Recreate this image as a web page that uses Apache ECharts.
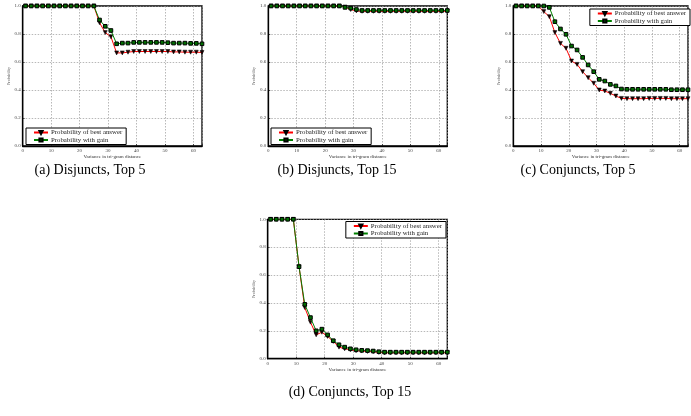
<!DOCTYPE html>
<html>
<head>
<meta charset="utf-8">
<script src="https://cdn.jsdelivr.net/npm/echarts@6/dist/echarts.min.js"></script>
<style>html,body{margin:0;padding:0;background:#fff;}#c{width:691px;height:416px;}</style>
</head>
<body>
<div id="c"></div>
<script>
// ---- data ----
const xs = [1,3,5,7,9,11,13,15,17,19,21,23,25,27,29,31,33,35,37,39,41,43,45,47,49,51,53,55,57,59,61,63];
const seriesNames = ['Probability of best answer', 'Probability with gain'];
const captions = ['(a) Disjuncts, Top 5', '(b) Disjuncts, Top 15', '(c) Conjuncts, Top 5', '(d) Conjuncts, Top 15'];
const xAxisName = 'Variance in tri-gram distance';
const yAxisName = 'Probability';
const yTicks = [0, 0.2, 0.4, 0.6, 0.8, 1.0];
const xTicks = [0, 10, 20, 30, 40, 50, 60];

const aBest = [1,1,1,1,1,1,1,1,1,1,1,1,1, 0.88,0.81,0.78,0.665, 0.665,0.67,0.675,0.675,0.675,0.675,0.675,0.675,0.675,0.672,0.672,0.67,0.67,0.67,0.668];
const aGain = [1,1,1,1,1,1,1,1,1,1,1,1,1, 0.90,0.855,0.825,0.73, 0.735,0.735,0.74,0.74,0.74,0.74,0.74,0.74,0.738,0.735,0.735,0.735,0.733,0.733,0.73];

const bBest = [1,1,1,1,1,1,1,1,1,1,1,1,1, 0.993,0.975,0.965,0.962, 0.962,0.962,0.962,0.962,0.962,0.962,0.962,0.962,0.962,0.962,0.962,0.962,0.962,0.962,0.962];
const bGain = [1,1,1,1,1,1,1,1,1,1,1,1,1, 0.99,0.985,0.975,0.968, 0.968,0.968,0.968,0.968,0.968,0.968,0.968,0.968,0.968,0.968,0.968,0.968,0.968,0.968,0.968];

const cBest = [1,1,1,1,1, 0.96,0.924,0.81,0.733,0.698,0.607,0.583,0.531,0.488,0.448,0.40,0.393,0.376,0.357,0.34, 0.338,0.338,0.338,0.338,0.34,0.34,0.34,0.34,0.338,0.338,0.338,0.338];
const cGain = [1,1,1,1,1,1, 0.99,0.888,0.836,0.798,0.714,0.686,0.633,0.579,0.531,0.476,0.464,0.44,0.429,0.407, 0.405,0.405,0.405,0.405,0.405,0.405,0.405,0.405,0.402,0.402,0.402,0.402];

const dBest = [1,1,1,1,1, 0.66,0.367,0.262,0.171,0.19,0.16,0.124,0.083,0.071,0.064,0.057,0.055,0.052,0.05,0.045, 0.042,0.042,0.042,0.042,0.042,0.042,0.042,0.042,0.042,0.042,0.042,0.042];
const dGain = [1,1,1,1,1, 0.66,0.39,0.295,0.2,0.212,0.171,0.129,0.10,0.083,0.071,0.064,0.06,0.058,0.055,0.05, 0.047,0.047,0.047,0.047,0.047,0.047,0.047,0.047,0.047,0.047,0.047,0.047];

const panelData = [[aBest, aGain], [bBest, bGain], [cBest, cGain], [dBest, dGain]];

// ---- layout ----
const layout = [
  { grid: {left: 22.7, top: 6, width: 179.3, height: 140}, legend: {left: 26, top: 128}, cap: {x: 90, y: 163} },
  { grid: {left: 268.3, top: 6, width: 179, height: 140}, legend: {left: 271, top: 128}, cap: {x: 337, y: 163} },
  { grid: {left: 513.3, top: 6, width: 176.7, height: 140}, legend: {right: 1, top: 9}, cap: {x: 578, y: 163} },
  { grid: {left: 267.7, top: 219.3, width: 179.6, height: 139.4}, legend: {right: 245, top: 221.5}, cap: {x: 350, y: 385} }
];

const serif = 'Liberation Serif';
const grids = [], xAxes = [], yAxes = [], series = [], legends = [], titles = [];

layout.forEach((L, i) => {
  grids.push(Object.assign({show: true, borderColor: '#000', borderWidth: 1.3, backgroundColor: 'transparent'}, L.grid));
  xAxes.push({
    type: 'value', gridIndex: i, min: 0, max: 63, interval: 10,
    name: xAxisName, nameLocation: 'middle', nameGap: 8,
    nameTextStyle: {fontSize: 5, fontFamily: serif, color: '#333'},
    axisLine: {show: true, lineStyle: {color: '#000', width: 1.3}},
    axisTick: {show: true, inside: true, length: 2, lineStyle: {color: '#000', width: 0.6}},
    axisLabel: {fontSize: 5, fontFamily: serif, color: '#444', margin: 2,
      formatter: v => (xTicks.indexOf(v) >= 0 ? String(v) : '')},
    splitLine: {show: true, lineStyle: {color: '#999', width: 0.7, type: [1.5, 1.5]}}
  });
  yAxes.push({
    type: 'value', gridIndex: i, min: 0, max: 1, interval: 0.2,
    name: yAxisName, nameLocation: 'middle', nameGap: 11,
    nameTextStyle: {fontSize: 4, fontFamily: serif, color: '#444'},
    axisLine: {show: true, lineStyle: {color: '#000', width: 1.3}},
    axisTick: {show: true, inside: true, length: 2, lineStyle: {color: '#000', width: 0.6}},
    axisLabel: {fontSize: 5, fontFamily: serif, color: '#444', margin: 2,
      formatter: v => (yTicks.some(t => Math.abs(t - v) < 1e-9) ? v.toFixed(1) : '')},
    splitLine: {show: true, lineStyle: {color: '#999', width: 0.7, type: [1.5, 1.5]}}
  });
  const [best, gain] = panelData[i];
  series.push({
    name: seriesNames[0], type: 'line', xAxisIndex: i, yAxisIndex: i,
    data: xs.map((x, k) => [x, best[k]]),
    showAllSymbol: true, symbol: 'triangle', symbolRotate: 180, symbolSize: 4,
    lineStyle: {color: '#ff0000', width: 1},
    itemStyle: {color: '#1a0000', borderColor: '#000', borderWidth: 0.5},
    z: 2
  });
  series.push({
    name: seriesNames[1], type: 'line', xAxisIndex: i, yAxisIndex: i,
    data: xs.map((x, k) => [x, gain[k]]),
    showAllSymbol: true, symbol: 'rect', symbolSize: 3.6,
    lineStyle: {color: '#008000', width: 1},
    itemStyle: {color: '#007000', borderColor: '#000', borderWidth: 1},
    z: 3
  });
  legends.push(Object.assign({
    data: seriesNames, top: L.legend.top, orient: 'vertical',
    itemWidth: 14, itemHeight: 4, itemGap: 0.5, padding: [1, 4, 1, 7],
    borderColor: '#000', borderWidth: 1, backgroundColor: '#fff',
    textStyle: {fontSize: 6.8, fontFamily: serif, color: '#222', padding: [0,0,0,-2]},
    selectedMode: false, z: 10
  }, L.legend.left !== undefined ? {left: L.legend.left} : {right: L.legend.right}));
  titles.push({
    text: captions[i], left: L.cap.x, top: L.cap.y, textAlign: 'center', padding: 0,
    textStyle: {fontSize: 14, fontFamily: serif, fontWeight: 'normal', color: '#000'}
  });
});

const chart = echarts.init(document.getElementById('c'), null, {renderer: 'canvas'});
chart.setOption({
  animation: false,
  backgroundColor: '#fff',
  title: titles,
  grid: grids,
  xAxis: xAxes,
  yAxis: yAxes,
  legend: legends,
  series: series
});
</script>
</body>
</html>
